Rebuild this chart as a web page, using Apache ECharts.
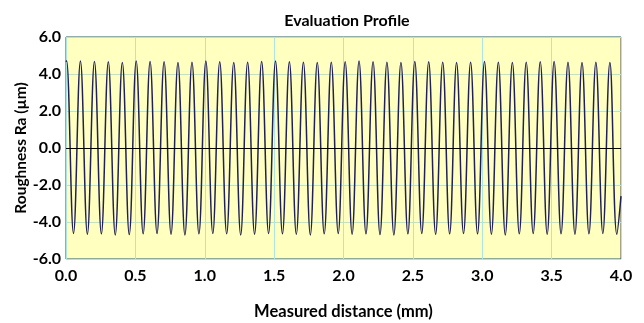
<!DOCTYPE html>
<html>
<head>
<meta charset="utf-8">
<script src="https://cdn.jsdelivr.net/npm/echarts@6/dist/echarts.min.js"></script>
<style>
  html, body { margin: 0; padding: 0; background: #fff; }
  #chart { width: 644px; height: 323px; }
</style>
</head>
<body>
<div id="chart"></div>
<script>
// profile: crest and valley positions (mm) and heights (µm)
const startPoint = [0, 4.66]
const peakX = [0.004, 0.104, 0.205, 0.305, 0.406, 0.506, 0.606, 0.707, 0.807, 0.908,
  1.008, 1.108, 1.209, 1.309, 1.410, 1.510, 1.610, 1.711, 1.811, 1.912,
  2.012, 2.112, 2.213, 2.313, 2.414, 2.514, 2.614, 2.715, 2.815, 2.916,
  3.016, 3.116, 3.217, 3.317, 3.418, 3.518, 3.618, 3.719, 3.819, 3.920]
const peakY = [4.72, 4.70, 4.68, 4.66, 4.62, 4.70, 4.68, 4.66, 4.62, 4.64,
  4.70, 4.66, 4.62, 4.64, 4.68, 4.70, 4.66, 4.64, 4.62, 4.64,
  4.66, 4.70, 4.66, 4.64, 4.62, 4.68, 4.66, 4.64, 4.62, 4.64,
  4.68, 4.64, 4.62, 4.64, 4.66, 4.68, 4.64, 4.62, 4.64, 4.62]
const troughX = [0.054, 0.154, 0.255, 0.355, 0.456, 0.556, 0.656, 0.757, 0.857, 0.958,
  1.058, 1.158, 1.259, 1.359, 1.460, 1.560, 1.660, 1.761, 1.861, 1.962,
  2.062, 2.162, 2.263, 2.363, 2.464, 2.564, 2.664, 2.765, 2.865, 2.966,
  3.066, 3.166, 3.267, 3.367, 3.468, 3.568, 3.668, 3.769, 3.869, 3.970]
const troughY = [-4.62, -4.66, -4.64, -4.70, -4.68, -4.64, -4.62, -4.66, -4.70, -4.64,
  -4.62, -4.64, -4.70, -4.66, -4.62, -4.64, -4.66, -4.70, -4.64, -4.62,
  -4.66, -4.64, -4.68, -4.70, -4.64, -4.62, -4.66, -4.64, -4.62, -4.64,
  -4.66, -4.70, -4.64, -4.62, -4.66, -4.64, -4.66, -4.64, -4.62, -4.66]
const endPoint = [4.0, -2.6]

const xTicks = ['0.0', '0.5', '1.0', '1.5', '2.0', '2.5', '3.0', '3.5', '4.0']
const yTicks = ['-6.0', '-4.0', '-2.0', '0.0', '2.0', '4.0', '6.0']

const profile = [startPoint]
peakX.forEach((x, i) => {
  profile.push([x, peakY[i]])
  profile.push([troughX[i], troughY[i]])
})
profile.push(endPoint)

const font = 'Lato, "Liberation Sans", sans-serif'
const chart = echarts.init(document.getElementById('chart'))
chart.setOption({
  animation: false,
  title: {
    text: 'Evaluation Profile',
    left: 342, top: 8, textAlign: 'center',
    textStyle: { fontFamily: font, fontSize: 16, fontWeight: 'bold', color: '#000' }
  },
  grid: {
    left: 66, right: 23, top: 37, bottom: 64,
    outerBoundsMode: 'none',
    show: true, backgroundColor: '#ffffc0', borderColor: '#4a4a4a', borderWidth: 1
  },
  xAxis: {
    type: 'value', min: 0, max: 4, interval: 0.5,
    name: 'Measured distance (mm)', nameLocation: 'middle', nameGap: 44,
    nameMoveOverlap: false,
    nameTextStyle: { fontFamily: font, fontSize: 16.5, fontWeight: 'bold', color: '#000' },
    axisLine: { show: false }, axisTick: { show: false },
    axisLabel: {
      margin: 9, fontFamily: font, fontSize: 16, fontWeight: 'bold', color: '#000',
      formatter: v => xTicks[Math.round(v / 0.5)]
    },
    splitLine: { lineStyle: { color: '#ade6dc', width: 1 } }
  },
  yAxis: {
    type: 'value', min: -6, max: 6, interval: 2,
    name: 'Roughness Ra (µm)', nameLocation: 'middle', nameGap: 37,
    nameMoveOverlap: false,
    nameTextStyle: { fontFamily: font, fontSize: 15.5, fontWeight: 'bold', color: '#000' },
    axisLine: { show: false }, axisTick: { show: false },
    axisLabel: {
      margin: 5, fontFamily: font, fontSize: 16, fontWeight: 'bold', color: '#000',
      formatter: v => yTicks[Math.round((v + 6) / 2)]
    },
    splitLine: { lineStyle: { color: '#ade6dc', width: 1 } }
  },
  series: [{
    type: 'line',
    data: profile,
    symbol: 'none',
    smooth: 0.4,
    lineStyle: { color: '#20205a', width: 1.5 },
    markLine: {
      silent: true, symbol: 'none', label: { show: false },
      lineStyle: { color: '#000', width: 1, type: 'solid' },
      data: [{ yAxis: 0 }]
    }
  }]
})
</script>
</body>
</html>
